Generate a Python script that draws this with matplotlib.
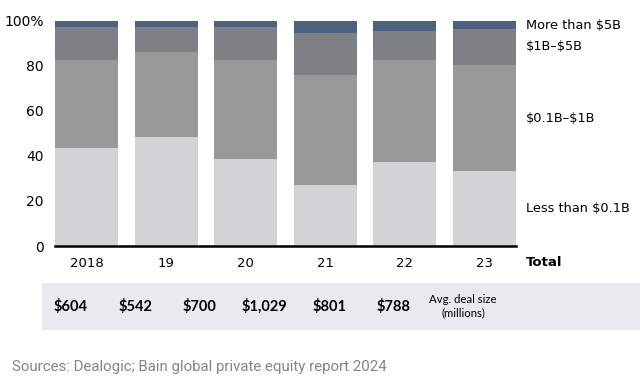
import matplotlib.pyplot as plt
import numpy as np

years = ["2018", "19", "20", "21", "22", "23"]
less_01 = [43.5, 48.5, 38.4, 27.0, 37.4, 33.4]
b01_1 = [39.0, 37.7, 44.1, 48.7, 45.1, 46.7]
b1_5 = [14.8, 11.1, 14.5, 18.9, 13.0, 16.0]
more_5 = [2.7, 2.7, 3.0, 5.4, 4.5, 3.9]
series_labels = ["Less than \\$0.1B", "\\$0.1B\u2013\\$1B", "\\$1B\u2013\\$5B", "More than \\$5B"]
avg_deal = ["$604", "$542", "$700", "$1,029", "$801", "$788"]

colors = ["#d2d3d5", "#999999", "#7f8084", "#4e6280"]
W, H = 640, 381

fig = plt.figure(figsize=(6.4, 3.81), dpi=100)
ax = fig.add_axes([55 / W, (H - 246) / H, (516 - 55) / W, (246 - 20.5) / H])

x = np.arange(len(years))
bottom = np.zeros(len(years))
label_y = []
for vals, c in zip([less_01, b01_1, b1_5, more_5], colors):
    vals = np.array(vals)
    ax.bar(x, vals, width=0.79, bottom=bottom, color=c, linewidth=0)
    label_y.append(bottom[-1] + vals[-1] / 2)
    bottom += vals

ax.set_xlim(-0.395, 5.395)
ax.set_ylim(0, 100)
ax.set_yticks([0, 20, 40, 60, 80, 100])
ax.set_yticklabels(["0", "20", "40", "60", "80", "100%"])
ax.set_xticks(x)
ax.set_xticklabels(years)
for s in ["top", "right", "left"]:
    ax.spines[s].set_visible(False)
ax.spines["bottom"].set_linewidth(1.8)
ax.spines["bottom"].set_color("black")
ax.tick_params(length=0, labelsize=9.5, pad=8)
ax.tick_params(axis="y", labelsize=10, pad=8)

# right-side labels (top two spread apart so they don't overlap)
right_y = [label_y[0], label_y[1], 88.4, 98.0]
for lbl, yy in zip(series_labels, right_y):
    ax.text(5.52, yy, lbl, fontsize=9.3, va="center", ha="left", clip_on=False)
ax.text(5.52, -7.2, "Total", fontsize=9.5, fontweight="bold", va="center", ha="left")

# table band
tax = fig.add_axes([42 / W, (H - 330) / H, (W - 42) / W, 47 / H])
tax.set_xlim(0, W - 42)
tax.set_ylim(0, 1)
tax.set_facecolor("#e8eaf0")
for s in tax.spines.values():
    s.set_visible(False)
tax.set_xticks([])
tax.set_yticks([])
for i, v in enumerate(avg_deal):
    tax.text(28.7 + 64.6 * i, 0.5, v.replace("$", "\\$"), fontsize=10.5,
             fontweight="bold", family="Lato", ha="center", va="center")
tax.text(421, 0.5, "Avg. deal size\n(millions)", fontsize=8.2, family="Lato",
         ha="center", va="center", linespacing=1.25)

fig.text(12 / W, 1 - 367 / H, "Sources: Dealogic; Bain global private equity report 2024",
         fontsize=10.8, color="#858585", family="Roboto", va="center", ha="left")

fig.savefig("out.png", dpi=100)
